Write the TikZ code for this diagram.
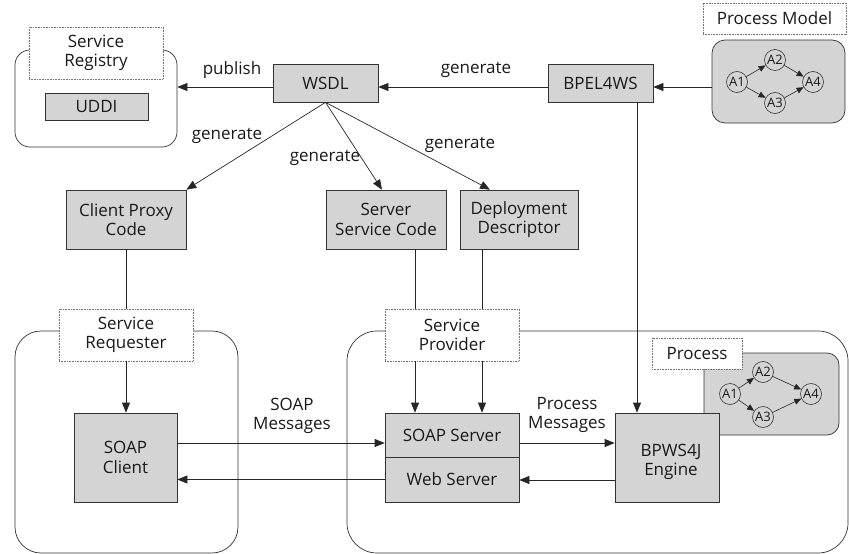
\documentclass[tikz,border=0pt]{standalone}
\usepackage{fontspec}
\setmainfont{Open Sans}
\usetikzlibrary{arrows.meta,calc}
\definecolor{boxgray}{RGB}{212,212,212}
\begin{document}
\begin{tikzpicture}[x=1pt,y=-1pt,
  every node/.style={font=\fontsize{17}{19.5}\selectfont, text=black!90, inner sep=0pt},
  box/.style={draw=black!80, fill=boxgray, line width=0.7pt, align=center},
  lbl/.style={draw=black!55, fill=white, dash pattern=on 0.8pt off 0.8pt, line width=0.6pt, align=center},
  cont/.style={draw=black!80, line width=0.7pt, rounded corners=#1},
  circ/.style={circle, draw=black!80, line width=0.6pt, minimum size=21pt, font=\fontsize{13}{13}\selectfont},
  arr/.style={draw=black!85, line width=0.7pt, -{Triangle[length=10pt,width=8pt]}},
  sarr/.style={draw=black!85, line width=0.6pt, -{Triangle[length=7pt,width=6pt]}},
  ln/.style={draw=black!85, line width=0.7pt}
]
\useasboundingbox (0,0) rectangle (849,554);

% containers
\node[cont=15pt, minimum width=162pt, minimum height=97pt] (reg) at (96,98.5) {};
\node[cont=26pt, minimum width=223pt, minimum height=222pt] (req) at (126.5,442) {};
\node[cont=30pt, minimum width=501pt, minimum height=222pt] (prov) at (597.5,442) {};
\node[cont=13pt, fill=boxgray, minimum width=133pt, minimum height=83pt] (pm) at (778.5,81.5) {};
\node[cont=12pt, fill=boxgray, minimum width=135pt, minimum height=82pt] (pb) at (771.5,394) {};

% label boxes
\node[lbl, minimum width=134pt, minimum height=52pt] (reglbl) at (96,53) {Service\\Registry};
\node[lbl, minimum width=143pt, minimum height=31pt] (pmlbl) at (774.5,18.5) {Process Model};
\node[lbl, minimum width=134pt, minimum height=52pt] (reqlbl) at (126,335) {Service\\Requester};
\node[lbl, minimum width=134pt, minimum height=52pt] (provlbl) at (452,335) {Service\\Provider};
\node[lbl, minimum width=90pt, minimum height=31pt] (proclbl) at (697,353.5) {Process};

% gray boxes
\node[box, minimum width=103pt, minimum height=27pt] (uddi) at (96.5,106.5) {UDDI};
\node[box, minimum width=105pt, minimum height=38pt] (wsdl) at (325.5,83) {WSDL};
\node[box, minimum width=105pt, minimum height=38pt] (bpel) at (600.5,83) {BPEL4WS};
\node[box, minimum width=120pt, minimum height=59pt] (cpc) at (126,219.5) {Client Proxy\\Code};
\node[box, minimum width=120pt, minimum height=59pt] (ssc) at (386,219.5) {Server\\Service Code};
\node[box, minimum width=118pt, minimum height=59pt] (dd) at (519,219.5) {Deployment\\Descriptor};
\node[box, minimum width=103pt, minimum height=89pt] (soapc) at (125.5,457.5) {SOAP\\Client};
\node[box, minimum width=134pt, minimum height=44pt] (soaps) at (452,435) {SOAP Server};
\node[box, minimum width=134pt, minimum height=45pt] (webs) at (452,479.5) {Web Server};
\node[box, minimum width=104pt, minimum height=89pt] (eng) at (667,457.5) {};
\node (engt) at (671,462) [align=center] {BPWS4J\\Engine};

% process model circles
\node[circ] (a1) at (737,82) {A1};
\node[circ] (a2) at (775,60) {A2};
\node[circ] (a3) at (775,103) {A3};
\node[circ] (a4) at (813,82) {A4};
\draw[sarr] (a1) -- (a2);
\draw[sarr] (a1) -- (a3);
\draw[sarr] (a2) -- (a4);
\draw[sarr] (a3) -- (a4);

\node[circ] (b1) at (730,394) {A1};
\node[circ] (b2) at (763,372) {A2};
\node[circ] (b3) at (763,417) {A3};
\node[circ] (b4) at (811,394) {A4};
\draw[sarr] (b1) -- (b2);
\draw[sarr] (b1) -- (b3);
\draw[sarr] (b2) -- (b4);
\draw[sarr] (b3) -- (b4);

% top row connectors
\coordinate (pa) at ([yshift=-4pt]wsdl.west);
\draw[arr] (pa) -- (pa -| reg.east);
\coordinate (pb) at ([yshift=-4pt]bpel.west);
\draw[arr] (pb) -- (pb -| wsdl.east);
\coordinate (pc) at ([yshift=-4pt]bpel.east);
\draw[arr] (pc -| pm.west) -- (pc);

\draw[arr] (wsdl.south) -- (cpc.north east);
\draw[arr] (wsdl.south) -- ([xshift=-4pt]ssc.north);
\draw[arr] (wsdl.south) -- ([xshift=-29pt]dd.north);

\coordinate (pd) at ([xshift=36.5pt]bpel.south);
\draw[arr] (pd) -- (pd |- eng.north);

% vertical links
\draw[ln] (cpc.south) -- (cpc.south |- reqlbl.north);
\draw[arr] (reqlbl.south) -- (reqlbl.south |- soapc.north);
\coordinate (s1) at ([xshift=29pt]ssc.south);
\coordinate (s2) at ([xshift=-37pt]dd.south);
\draw[ln] (s1) -- (s1 |- provlbl.north);
\draw[ln] (s2) -- (s2 |- provlbl.north);
\draw[arr] (s1 |- provlbl.south) -- (s1 |- soaps.north);
\draw[arr] (s2 |- provlbl.south) -- (s2 |- soaps.north);

% messages
\coordinate (m1) at ([yshift=14.5pt]soapc.east);
\draw[arr] (m1) -- (m1 -| soaps.west);
\coordinate (m2) at ([yshift=-8pt]soaps.east);
\draw[arr] (m2) -- (m2 -| eng.west);
\coordinate (m3) at ([yshift=-22.5pt]eng.west);
\draw[arr] (m3) -- (m3 -| webs.east);
\draw[arr] (webs.west) -- (webs.west -| soapc.east);

% labels
\node (lpub) at (232,70) {publish};
\node (lgen1) at (476,70) {generate};
\node (lgen2) at (227,136) {generate};
\node (lgen3) at (325,158) {generate};
\node (lgen4) at (460,145) {generate};
\node[align=center] (lsoap) at (292,416) {SOAP\\Messages};
\node[align=center] (lproc) at (567,415) {Process\\Messages};
\end{tikzpicture}
\end{document}
